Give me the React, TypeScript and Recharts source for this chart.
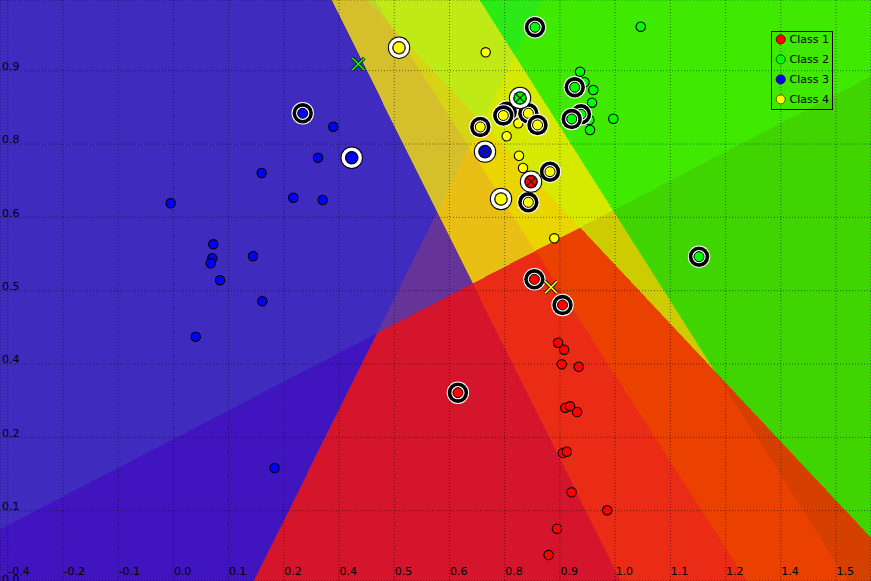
import React from 'react';
import { ScatterChart, Scatter, XAxis, YAxis, CartesianGrid, Legend } from 'recharts';

const CHART_W = 871;
const CHART_H = 581;

const X_DOMAIN: [number, number] = [-0.4177, 1.5802];
const Y_DOMAIN: [number, number] = [0.0053, 1.0239];

const X_TICKS = [-0.4, -0.2733, -0.1467, -0.02, 0.1067, 0.2333, 0.36, 0.4867, 0.6133, 0.74, 0.8667, 0.9933, 1.12, 1.2467, 1.3733, 1.5];
const X_TICK_LABELS = ['-0.4', '-0.2', '-0.1', '0.0', '0.1', '0.2', '0.4', '0.5', '0.6', '0.8', '0.9', '1.0', '1.1', '1.2', '1.4', '1.5'];
const Y_TICKS = [0, 0.1286, 0.2571, 0.3857, 0.5143, 0.6429, 0.7714, 0.9];
const Y_TICK_LABELS = ['0.0', '0.1', '0.2', '0.4', '0.5', '0.6', '0.8', '0.9'];

const CLASS_NAMES = ['Class 1', 'Class 2', 'Class 3', 'Class 4'];
const CLASS_COLORS = ['#ff0000', '#00ff00', '#0000ff', '#ffff00'];
const CLASS_EDGE = ['#600000', '#005000', '#000060', '#605000'];
const CLASS_RGB = [[255, 0, 0], [0, 255, 0], [0, 0, 255], [255, 255, 0]];

// pairwise decision boundaries (class index on each side)
const BOUNDARIES = [
  { from: [0.3439, 1.0239], to: [1.0068, 0.0053], neg: 2, pos: 3 },
  { from: [-0.4177, 0.0964], to: [1.5802, 0.8907], neg: 0, pos: 3 },
  { from: [0.4242, 1.0239], to: [1.5802, 0.0817], neg: 0, pos: 1 },
  { from: [0.6834, 1.0239], to: [1.5275, 0.0053], neg: 3, pos: 1 },
  { from: [0.4425, 1.0239], to: [1.2958, 0.0053], neg: 2, pos: 1 },
  { from: [0.8279, 1.0239], to: [0.1650, 0.0053], neg: 2, pos: 0 },
];
const TIE_ORDER = [2, 3, 0, 1];

// Class 1
const RED_POINTS = [[0.8625, 0.4231], [0.8763, 0.4108], [0.8708, 0.3852], [0.9098, 0.3810], [0.8790, 0.3091], [0.8898, 0.3116], [0.9061, 0.3016], [0.8735, 0.2297], [0.8825, 0.2320], [0.8935, 0.1608], [0.9751, 0.1292], [0.8598, 0.0970], [0.8407, 0.0508]];
const RED_SV = [[0.8081, 0.5342], [0.8726, 0.4892], [0.6327, 0.3354]];
const RED_SV_WHITE_X = [[0.8004, 0.7054]];
// Class 2
const GREEN_POINTS = [[1.0520, 0.9771], [0.9127, 0.8982], [0.9231, 0.8798], [0.9432, 0.8661], [0.9403, 0.8439], [0.9891, 0.8158], [0.9357, 0.7960], [0.9341, 0.8135]];
const GREEN_SV = [[0.8095, 0.9761], [0.9006, 0.8709], [0.9150, 0.8235], [0.8937, 0.8153], [1.1857, 0.5739]];
const GREEN_X = [[0.4042, 0.9117]];
const GREEN_SV_WHITE_X = [[0.7751, 0.8521]];
// Class 3
const BLUE_POINTS = [[0.3118, 0.7474], [0.1826, 0.7206], [-0.0261, 0.6675], [0.2551, 0.6773], [0.3226, 0.6733], [0.0716, 0.5956], [0.0693, 0.5711], [0.0656, 0.5623], [0.1627, 0.5746], [0.0870, 0.5325], [0.1840, 0.4957], [0.0312, 0.4336], [0.3469, 0.8018], [0.2122, 0.2034]];
const BLUE_SV = [[0.2767, 0.8253]];
const BLUE_SV_WHITE = [[0.3891, 0.7474]];
const BLUE_SV_WHITE_X = [[0.6948, 0.7580]];
// Class 4
const YELLOW_POINTS = [[0.6964, 0.9322], [0.7712, 0.8077], [0.7446, 0.7850], [0.7728, 0.7508], [0.7820, 0.7294], [0.8538, 0.6061]];
const YELLOW_SV = [[0.6840, 0.8013], [0.7446, 0.8281], [0.7368, 0.8214], [0.7942, 0.8253], [0.8153, 0.8048], [0.8439, 0.7229], [0.7942, 0.6692]];
const YELLOW_SV_WHITE = [[0.4976, 0.9403], [0.7315, 0.6750]];
const YELLOW_X = [[0.8462, 0.5202]];

const toData = (arr: number[][]) => arr.map(([x, y]) => ({ x, y }));

// ---- background regions from the pairwise boundaries ----
function crossAt(b: any, p: number[]) {
  const dx = b.to[0] - b.from[0];
  const dy = b.to[1] - b.from[1];
  return dx * (p[1] - b.from[1]) - dy * (p[0] - b.from[0]);
}
function clipPoly(poly: number[][], b: any, s: number) {
  const out: number[][] = [];
  for (let i = 0; i < poly.length; i++) {
    const a = poly[i];
    const c = poly[(i + 1) % poly.length];
    const fa = s * crossAt(b, a);
    const fc = s * crossAt(b, c);
    if (fa >= 0) out.push(a);
    if ((fa >= 0) !== (fc >= 0)) {
      const t = fa / (fa - fc);
      out.push([a[0] + t * (c[0] - a[0]), a[1] + t * (c[1] - a[1])]);
    }
  }
  return out;
}
function polyArea(poly: number[][]) {
  let s = 0;
  for (let i = 0; i < poly.length; i++) {
    const a = poly[i];
    const c = poly[(i + 1) % poly.length];
    s += a[0] * c[1] - c[0] * a[1];
  }
  return Math.abs(s / 2);
}
function buildRegions() {
  const rect = [[X_DOMAIN[0], Y_DOMAIN[0]], [X_DOMAIN[1], Y_DOMAIN[0]], [X_DOMAIN[1], Y_DOMAIN[1]], [X_DOMAIN[0], Y_DOMAIN[1]]];
  const regions: { points: { x: number; y: number }[]; color: string }[] = [];
  const n = BOUNDARIES.length;
  for (let mask = 0; mask < 1 << n; mask++) {
    let poly = rect;
    const votes = [0, 0, 0, 0];
    for (let k = 0; k < n && poly.length >= 3; k++) {
      const s = (mask >> k) & 1 ? 1 : -1;
      poly = clipPoly(poly, BOUNDARIES[k], s);
      votes[s > 0 ? BOUNDARIES[k].pos : BOUNDARIES[k].neg]++;
    }
    if (poly.length < 3 || polyArea(poly) < 1e-7) continue;
    const max = Math.max(...votes);
    const tied = [0, 1, 2, 3].filter((c) => votes[c] === max);
    const winner = tied.length > 1 ? TIE_ORDER.find((c) => tied.includes(c))! : tied[0];
    const w = tied.length > 1 ? 0.4 : 0.5;
    const rgb = [0, 1, 2].map((ch) => {
      let avg = 0;
      for (let c = 0; c < 4; c++) avg += votes[c] * CLASS_RGB[c][ch];
      avg /= n;
      return Math.round(w * CLASS_RGB[winner][ch] + (1 - w) * avg);
    });
    regions.push({ points: poly.map(([x, y]) => ({ x, y })), color: `rgb(${rgb[0]},${rgb[1]},${rgb[2]})` });
  }
  return regions;
}
const REGIONS = buildRegions();

const EmptyShape = () => <g />;

const regionLine = (color: string) => (p: any) => {
  const pts = (p.points || []).filter((q: any) => q.x != null && q.y != null);
  if (pts.length < 3) return <g />;
  const d = 'M' + pts.map((q: any) => `${q.x},${q.y}`).join('L') + 'Z';
  return <path d={d} fill={color} stroke={color} strokeWidth={0.6} shapeRendering="crispEdges" />;
};

function makeShape(kind: string, ci: number) {
  const color = CLASS_COLORS[ci];
  return (p: any) => {
    const { cx, cy } = p;
    if (cx == null || cy == null) return <g />;
    const cross = (size: number, stroke: string, sw: number) => (
      <path d={`M${cx - size},${cy - size}L${cx + size},${cy + size}M${cx - size},${cy + size}L${cx + size},${cy - size}`} stroke={stroke} strokeWidth={sw} fill="none" />
    );
    if (kind === 'dot') {
      return <circle cx={cx} cy={cy} r={4.7} fill={color} stroke="#000" strokeWidth={1.1} />;
    }
    if (kind === 'sv') {
      return (
        <g>
          <circle cx={cx} cy={cy} r={11.2} fill="#fff" />
          <circle cx={cx} cy={cy} r={10.2} fill="#000" />
          <circle cx={cx} cy={cy} r={6.6} fill="#fff" />
          <circle cx={cx} cy={cy} r={5.0} fill={color} stroke="#000" strokeWidth={1} />
        </g>
      );
    }
    if (kind === 'svWhite' || kind === 'svWhiteX') {
      return (
        <g>
          <circle cx={cx} cy={cy} r={11.2} fill="#000" />
          <circle cx={cx} cy={cy} r={10.2} fill="#fff" />
          <circle cx={cx} cy={cy} r={6.8} fill="#000" />
          <circle cx={cx} cy={cy} r={5.8} fill={color} stroke={CLASS_EDGE[ci]} strokeWidth={1} />
          {kind === 'svWhiteX' ? cross(4.5, '#222', 1.2) : null}
        </g>
      );
    }
    // standalone cross
    return (
      <g>
        {cross(6, '#1a1a1a', 3.4)}
        {cross(6, color, 1.6)}
      </g>
    );
  };
}

const SERIES = [
  { name: CLASS_NAMES[0], ci: 0, kind: 'dot', pts: RED_POINTS },
  { name: CLASS_NAMES[1], ci: 1, kind: 'dot', pts: GREEN_POINTS },
  { name: CLASS_NAMES[2], ci: 2, kind: 'dot', pts: BLUE_POINTS },
  { name: CLASS_NAMES[3], ci: 3, kind: 'dot', pts: YELLOW_POINTS },
  { name: 'sv1', ci: 0, kind: 'sv', pts: RED_SV },
  { name: 'sv2', ci: 1, kind: 'sv', pts: GREEN_SV },
  { name: 'sv3', ci: 2, kind: 'sv', pts: BLUE_SV },
  { name: 'sv4', ci: 3, kind: 'sv', pts: YELLOW_SV },
  { name: 'svw3', ci: 2, kind: 'svWhite', pts: BLUE_SV_WHITE },
  { name: 'svw4', ci: 3, kind: 'svWhite', pts: YELLOW_SV_WHITE },
  { name: 'svx1', ci: 0, kind: 'svWhiteX', pts: RED_SV_WHITE_X },
  { name: 'svx2', ci: 1, kind: 'svWhiteX', pts: GREEN_SV_WHITE_X },
  { name: 'svx3', ci: 2, kind: 'svWhiteX', pts: BLUE_SV_WHITE_X },
  { name: 'x2', ci: 1, kind: 'cross', pts: GREEN_X },
  { name: 'x4', ci: 3, kind: 'cross', pts: YELLOW_X },
];

const FONT = 'DejaVu Sans, sans-serif';

const XTick = (props: any) => {
  const { x, payload } = props;
  const i = X_TICKS.indexOf(payload.value);
  return (
    <text x={x + 0.5} y={CHART_H - 6} fontSize={11} fontFamily={FONT} fill="#000">
      {X_TICK_LABELS[i]}
    </text>
  );
};
const YTick = (props: any) => {
  const { y, payload } = props;
  const i = Y_TICKS.indexOf(payload.value);
  return (
    <text x={2} y={y - 0.6} fontSize={11} fontFamily={FONT} fill="#000">
      {Y_TICK_LABELS[i]}
    </text>
  );
};

const LegendBox = () => (
  <svg width={62} height={79} style={{ display: 'block' }}>
    <rect x={0.5} y={0.5} width={61} height={78} fill="none" stroke="#000" strokeWidth={1} />
    {CLASS_NAMES.map((n, i) => (
      <g key={n}>
        <circle cx={9.7} cy={8.4 + 20 * i} r={4.5} fill={CLASS_COLORS[i]} stroke={CLASS_EDGE[i]} strokeWidth={1} />
        <text x={18.5} y={12.4 + 20 * i} fontSize={11} fontFamily={FONT} fill="#000">
          {n}
        </text>
      </g>
    ))}
  </svg>
);

export default function App() {
  return (
    <div style={{ position: 'absolute', left: 0, top: 0, width: CHART_W, height: CHART_H, overflow: 'hidden' }}>
      <ScatterChart width={CHART_W} height={CHART_H} margin={{ top: 0, right: 0, bottom: -2, left: -2 }} style={{ overflow: 'visible' }}>
        <XAxis
          type="number"
          dataKey="x"
          domain={X_DOMAIN}
          allowDataOverflow
          ticks={X_TICKS}
          interval={0}
          height={2}
          axisLine={false}
          tickLine={false}
          tick={<XTick />}
          zIndex={2000}
        />
        <YAxis
          type="number"
          dataKey="y"
          domain={Y_DOMAIN}
          allowDataOverflow
          ticks={Y_TICKS}
          interval={0}
          width={2}
          axisLine={false}
          tickLine={false}
          tick={<YTick />}
          zIndex={2000}
        />
        {REGIONS.map((r, i) => (
          <Scatter
            key={'region' + i}
            name={'region' + i}
            data={r.points}
            isAnimationActive={false}
            shape={EmptyShape}
            line={regionLine(r.color)}
            lineType="joint"
            legendType="none"
            zIndex={-200}
          />
        ))}
        <CartesianGrid stroke="#000" strokeOpacity={0.5} strokeDasharray="1 2" />
        {SERIES.map((s) => (
          <Scatter
            key={s.name}
            name={s.name}
            data={toData(s.pts)}
            fill={CLASS_COLORS[s.ci]}
            isAnimationActive={false}
            shape={makeShape(s.kind, s.ci)}
          />
        ))}
        <Legend
          layout="vertical"
          align="center"
          verticalAlign="middle"
          content={() => <LegendBox />}
          wrapperStyle={{ left: 771, top: 31, width: 62, height: 79 }}
        />
      </ScatterChart>
    </div>
  );
}
